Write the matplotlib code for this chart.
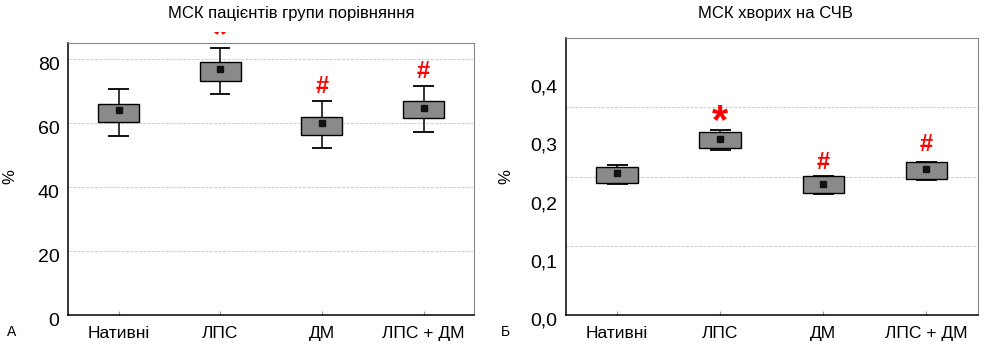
import matplotlib
matplotlib.use('Agg')
import matplotlib.pyplot as plt
import matplotlib.transforms as mtransforms
import numpy as np

plt.rcParams['font.family'] = ['Liberation Sans Narrow', 'DejaVu Sans Condensed',
                               'Liberation Sans', 'DejaVu Sans']

groups = ['Нативні', 'ЛПС', 'ДМ', 'ЛПС + ДМ']

# panel A: МСК пацієнтів групи порівняння (%)
a_mean = [64.0, 77.1, 60.0, 64.9]
a_box_lo = [60.4, 73.3, 56.4, 61.5]
a_box_hi = [66.1, 79.3, 62.1, 67.1]
a_wh_lo = [56.0, 69.0, 52.1, 57.1]
a_wh_hi = [70.7, 83.6, 66.8, 71.8]
a_marks = ['', '*', '#', '#']
a_mark_y = [None, 87.0, 71.6, 76.3]

# panel B: МСК хворих на СЧВ (%)
b_mean = [0.243, 0.303, 0.225, 0.250]
b_box_lo = [0.227, 0.287, 0.210, 0.234]
b_box_hi = [0.255, 0.315, 0.238, 0.262]
b_wh_lo = [0.225, 0.284, 0.207, 0.231]
b_wh_hi = [0.258, 0.317, 0.239, 0.263]
b_marks = ['', '*', '#', '#']
b_mark_y = [None, 0.331, 0.2626, 0.2923]

a_ticks = [0, 20, 40, 60, 80]
b_ticks = [0, 0.1, 0.2, 0.3, 0.4]
b_ticklabels = ['0,0', '0,1', '0,2', '0,3', '0,4']

fig = plt.figure(figsize=(9.86, 3.51), dpi=100)
axA = fig.add_axes([0.0687, 0.1026, 0.4124, 0.774])
axB = fig.add_axes([0.5737, 0.1026, 0.4182, 0.7883])

x = np.arange(1, 5)


def draw_boxes(ax, mean, lo, hi, wlo, whi):
    ax.vlines(x, wlo, whi, color='black', lw=1.1, zorder=2)
    ax.hlines(wlo, x - 0.1, x + 0.1, color='black', lw=1.3, zorder=2)
    ax.hlines(whi, x - 0.1, x + 0.1, color='black', lw=1.3, zorder=2)
    ax.bar(x, np.array(hi) - np.array(lo), bottom=lo, width=0.405,
           color='#8a8a8a', edgecolor='black', lw=1.0, zorder=3)
    ax.plot(x, mean, 's', color='#111111', ms=4, zorder=4)


def style(ax):
    ax.set_xlim(0.5, 4.5)
    ax.set_xticks(x)
    ax.set_xticklabels(groups, fontsize=12.5)
    ax.tick_params(axis='x', direction='in', length=3, color='#999999', pad=8)
    ax.tick_params(axis='y', length=0, pad=6, labelsize=14)
    for s in ['left', 'bottom']:
        ax.spines[s].set_color('black')
        ax.spines[s].set_linewidth(1.1)
    for s in ['top', 'right']:
        ax.spines[s].set_color('#888888')
        ax.spines[s].set_linewidth(0.8)
    off = mtransforms.ScaledTranslation(0, -3 / 72, fig.dpi_scale_trans)
    for lbl in ax.get_yticklabels():
        lbl.set_transform(lbl.get_transform() + off)


# panel A
draw_boxes(axA, a_mean, a_box_lo, a_box_hi, a_wh_lo, a_wh_hi)
axA.set_ylim(0, 85)
axA.set_yticks(a_ticks)
axA.grid(axis='y', ls='--', lw=0.6, color='#c8c8c8', zorder=0)
style(axA)

clip = mtransforms.TransformedBbox(
    mtransforms.Bbox([[0, (351 - 39) / 351], [1, (351 - 32) / 351]]), fig.transFigure)
for i, m in enumerate(a_marks):
    if m:
        t = axA.text(x[i], a_mark_y[i], m, color='red', fontsize=26 if m == '*' else 17,
                     fontweight='bold', ha='center', va='center', clip_on=False)
        if m == '*':
            t.set_clip_on(True)
            t.set_clip_box(clip)

# panel B
draw_boxes(axB, b_mean, b_box_lo, b_box_hi, b_wh_lo, b_wh_hi)
axB.set_ylim(0, 0.4752)
axB.set_yticks(b_ticks)
axB.set_yticklabels(b_ticklabels)
axB.set_yticks([0.1188, 0.2376, 0.3564], minor=True)
axB.tick_params(axis='y', which='minor', length=0)
axB.grid(axis='y', which='minor', ls='--', lw=0.6, color='#c8c8c8', zorder=0)
style(axB)
for i, m in enumerate(b_marks):
    if m:
        axB.text(x[i], b_mark_y[i], m, color='red', fontsize=30 if m == '*' else 17,
                 fontweight='bold', ha='center', va='center')

fig.text(0.295, 0.962, 'МСК пацієнтів групи порівняння', ha='center', va='center', fontsize=12)
fig.text(0.7865, 0.962, 'МСК хворих на СЧВ', ha='center', va='center', fontsize=12)
fig.text(10 / 986, 1 - 177 / 351, '%', rotation=90, ha='center', va='center', fontsize=12)
fig.text(506 / 986, 1 - 177 / 351, '%', rotation=90, ha='center', va='center', fontsize=12)
fig.text(12 / 986, 1 - 332 / 351, 'А', ha='center', va='center', fontsize=10)
fig.text(505 / 986, 1 - 332 / 351, 'Б', ha='center', va='center', fontsize=10)

fig.savefig('out.png', dpi=100)
